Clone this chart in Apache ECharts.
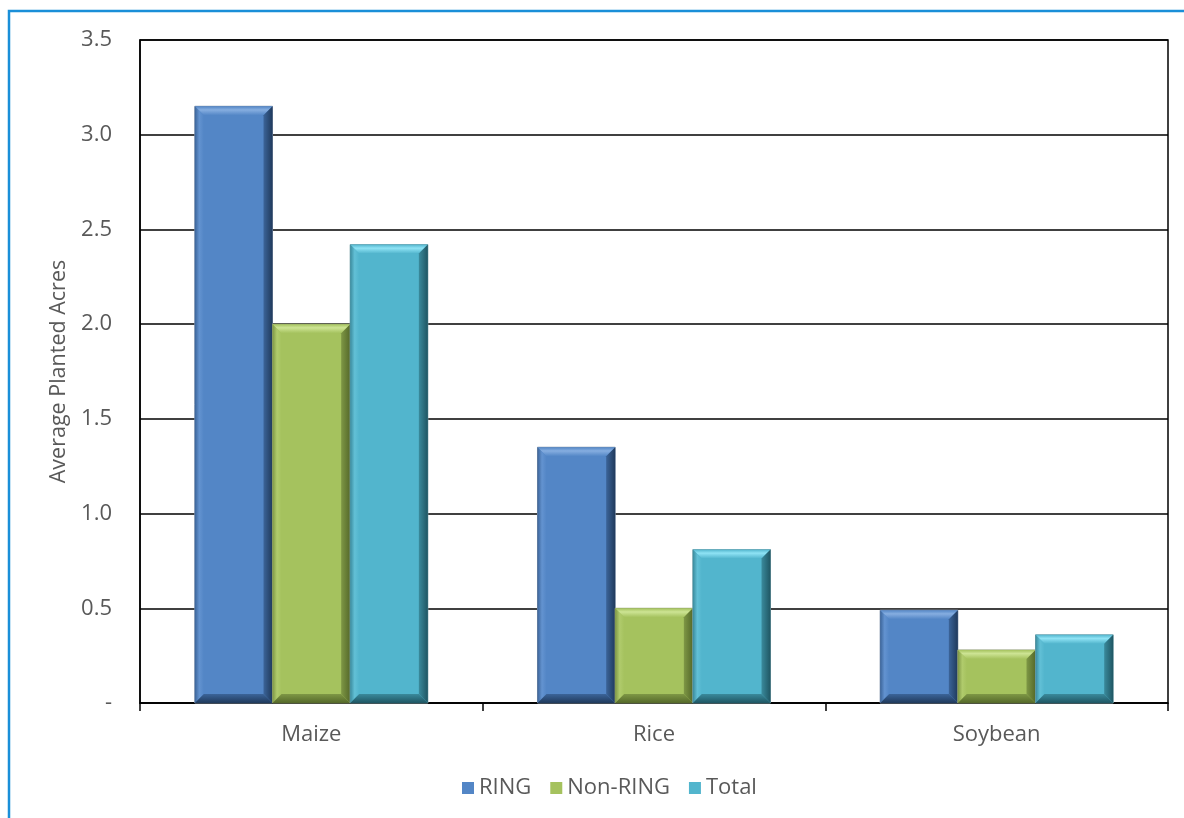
<!DOCTYPE html>
<html>
<head>
<meta charset="utf-8">
<script src="https://cdn.jsdelivr.net/npm/echarts@6/dist/echarts.min.js"></script>
<style>
html,body{margin:0;padding:0;background:#fff;}
#chart{width:1184px;height:818px;}
</style>
</head>
<body>
<div id="chart"></div>
<script>
var categories = ['Maize', 'Rice', 'Soybean'];
var seriesNames = ['RING', 'Non-RING', 'Total'];
var ringValues = [3.15, 1.35, 0.49];
var nonRingValues = [2.00, 0.50, 0.28];
var totalValues = [2.42, 0.81, 0.36];
var yTickValues = [0, 0.5, 1.0, 1.5, 2.0, 2.5, 3.0, 3.5];

var palettes = [
  {base:'#5386C6', top:'#86AEE0', left:'#6393D0', right:'#203A5C', bottom:'#3B6499', edge:'#7f8fa6'},
  {base:'#A5C25E', top:'#CDE494', left:'#B0CB6C', right:'#55692A', bottom:'#7E9745', edge:'#95a07a'},
  {base:'#52B5CD', top:'#8FE3F5', left:'#62C0D6', right:'#1F5663', bottom:'#3A8A9C', edge:'#7fa3ab'}
];

function makeRender(idx) {
  var p = palettes[idx];
  return function (params, api) {
    var ci = api.value(0);
    var v = api.value(1);
    var band = api.size([1, 0])[0];
    var barW = band * 0.68 / 3;
    var c = api.coord([ci, v]);
    var b = api.coord([ci, 0]);
    var x0 = c[0] - 1.5 * barW + idx * barW;
    var x1 = x0 + barW;
    var yT = c[1], yB = b[1];
    var bv = Math.min(9, (yB - yT) / 2, barW / 2);
    return {
      type: 'group',
      children: [
        {type:'rect', shape:{x:x0, y:yT, width:barW, height:yB - yT}, style:{fill:p.base, stroke:p.edge, lineWidth:1}},
        {type:'polygon', shape:{points:[[x0,yT],[x1,yT],[x1-bv,yT+bv],[x0+bv,yT+bv]]},
          style:{fill:new echarts.graphic.LinearGradient(0,0,0,1,[{offset:0,color:p.base},{offset:0.4,color:p.top},{offset:1,color:p.base}])}},
        {type:'polygon', shape:{points:[[x0,yT],[x0+bv,yT+bv],[x0+bv,yB-bv],[x0,yB]]},
          style:{fill:new echarts.graphic.LinearGradient(0,0,1,0,[{offset:0,color:p.bottom},{offset:0.5,color:p.left},{offset:1,color:p.base}])}},
        {type:'polygon', shape:{points:[[x1,yT],[x1,yB],[x1-bv,yB-bv],[x1-bv,yT+bv]]},
          style:{fill:new echarts.graphic.LinearGradient(0,0,1,0,[{offset:0,color:p.bottom},{offset:1,color:p.right}])}},
        {type:'polygon', shape:{points:[[x0,yB],[x0+bv,yB-bv],[x1-bv,yB-bv],[x1,yB]]},
          style:{fill:new echarts.graphic.LinearGradient(0,0,0,1,[{offset:0,color:p.bottom},{offset:1,color:p.right}])}}
      ]
    };
  };
}

var valueSets = [ringValues, nonRingValues, totalValues];
var series = seriesNames.map(function (name, i) {
  return {
    name: name,
    type: 'custom',
    renderItem: makeRender(i),
    itemStyle: {color: palettes[i].base},
    encode: {x: 0, y: 1},
    data: valueSets[i].map(function (v, k) { return [k, v]; }),
    z: 3
  };
});

var chart = echarts.init(document.getElementById('chart'), null, {renderer: 'canvas'});
var font = '"Open Sans", "Noto Sans", sans-serif';
chart.setOption({
  animation: false,
  textStyle: {fontFamily: font},
  graphic: [{
    type: 'rect', z: 100, silent: true,
    shape: {x: 9, y: 11, width: 1300, height: 900},
    style: {fill: 'none', stroke: '#1A8FD8', lineWidth: 2.5}
  }],
  grid: {left: 140, right: 16, top: 40, bottom: 115, show: true, borderColor: '#000', borderWidth: 1.5, backgroundColor: 'rgba(0,0,0,0)'},
  legend: {
    data: seriesNames.map(function (n) { return {name: n, icon: 'rect'}; }),
    top: 772, left: 457,
    itemWidth: 12, itemHeight: 12, itemGap: 19,
    textStyle: {color: '#595959', fontSize: 22, fontFamily: font}
  },
  xAxis: {
    type: 'category',
    data: categories,
    axisLine: {show: true, lineStyle: {color: '#000', width: 1.5}},
    axisTick: {show: true, length: 8, lineStyle: {color: '#000', width: 1.5}},
    axisLabel: {color: '#595959', fontSize: 22, margin: 21, fontFamily: font},
    splitLine: {show: false}
  },
  yAxis: {
    type: 'value',
    min: 0, max: 3.5, interval: 0.5,
    name: 'Average Planted Acres',
    nameLocation: 'middle',
    nameGap: 70,
    nameTextStyle: {color: '#595959', fontSize: 21.5, fontFamily: font},
    axisLine: {show: true, lineStyle: {color: '#000', width: 1.5}},
    axisTick: {show: false},
    axisLabel: {
      color: '#595959', fontSize: 22, margin: 28, fontFamily: font,
      formatter: function (v) { return v === 0 ? '-' : v.toFixed(1); }
    },
    splitLine: {show: true, lineStyle: {color: '#000', width: 1.5}}
  },
  series: series
});
</script>
</body>
</html>
